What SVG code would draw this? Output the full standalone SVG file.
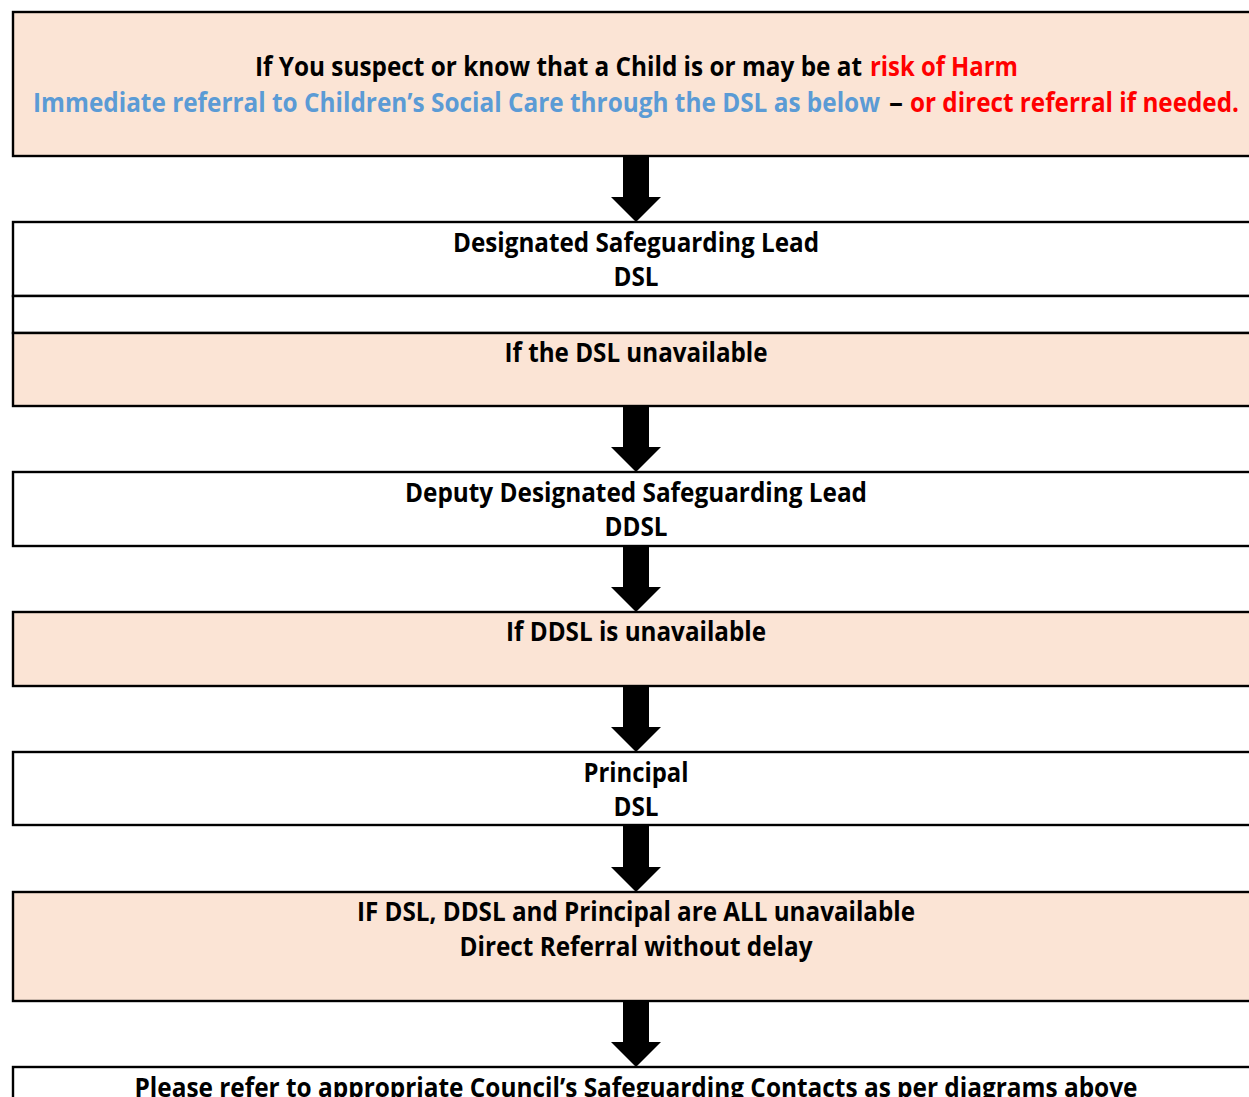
<svg xmlns="http://www.w3.org/2000/svg" width="1249" height="1097" viewBox="0 0 1249 1097">
<style>
.box{stroke:#000;stroke-width:2.4}
.pink{fill:#FBE4D5}
.white{fill:#fff}
text{font-family:"Open Sans","Noto Sans","Liberation Sans",sans-serif;font-weight:700;font-size:26px;fill:#000}
.c{text-anchor:middle}
.blue{fill:#5B9BD5}
.red{fill:#FF0000}
.arrow{fill:#000}
</style>
<rect width="1249" height="1097" fill="#fff"/>
<g id="n1">
<rect class="box pink" x="13" y="12" width="1260" height="144"/>
<text x="255" y="76" textLength="607" lengthAdjust="spacingAndGlyphs">If You suspect or know that a Child is or may be at</text>
<text class="red" x="870" y="76" textLength="148" lengthAdjust="spacingAndGlyphs">risk of Harm</text>
<text class="blue" x="33" y="112" textLength="847" lengthAdjust="spacingAndGlyphs">Immediate referral to Children’s Social Care through the DSL as below</text>
<text x="889" y="112" textLength="14" lengthAdjust="spacingAndGlyphs">–</text>
<text class="red" x="910" y="112" textLength="329" lengthAdjust="spacingAndGlyphs">or direct referral if needed.</text>
</g>
<g id="n2">
<rect class="box white" x="13" y="222" width="1260" height="74"/>
<text class="c" x="636" y="252" textLength="366" lengthAdjust="spacingAndGlyphs">Designated Safeguarding Lead</text>
<text class="c" x="636" y="286" textLength="45" lengthAdjust="spacingAndGlyphs">DSL</text>
</g>
<g id="n2b">
<rect class="box white" x="13" y="296" width="1260" height="37"/>
</g>
<g id="n3">
<rect class="box pink" x="13" y="333" width="1260" height="73"/>
<text class="c" x="636" y="362" textLength="263" lengthAdjust="spacingAndGlyphs">If the DSL unavailable</text>
</g>
<g id="n4">
<rect class="box white" x="13" y="472" width="1260" height="74"/>
<text class="c" x="636" y="502" textLength="462" lengthAdjust="spacingAndGlyphs">Deputy Designated Safeguarding Lead</text>
<text class="c" x="636" y="536" textLength="63" lengthAdjust="spacingAndGlyphs">DDSL</text>
</g>
<g id="n5">
<rect class="box pink" x="13" y="612" width="1260" height="74"/>
<text class="c" x="636" y="641" textLength="260" lengthAdjust="spacingAndGlyphs">If DDSL is unavailable</text>
</g>
<g id="n6">
<rect class="box white" x="13" y="752" width="1260" height="73"/>
<text class="c" x="636" y="782" textLength="105" lengthAdjust="spacingAndGlyphs">Principal</text>
<text class="c" x="636" y="816" textLength="45" lengthAdjust="spacingAndGlyphs">DSL</text>
</g>
<g id="n7">
<rect class="box pink" x="13" y="892" width="1260" height="109"/>
<text class="c" x="636" y="921" textLength="558" lengthAdjust="spacingAndGlyphs">IF DSL, DDSL and Principal are ALL unavailable</text>
<text class="c" x="636" y="956" textLength="353" lengthAdjust="spacingAndGlyphs">Direct Referral without delay</text>
</g>
<g id="n8">
<rect class="box white" x="13" y="1067" width="1260" height="60"/>
<text class="c" x="636" y="1097" textLength="1003" lengthAdjust="spacingAndGlyphs">Please refer to appropriate Council’s Safeguarding Contacts as per diagrams above</text>
</g>
<g id="connectors">
<polygon class="arrow" points="623,157 649,157 649,197 661,197 636,222 611,197 623,197"/>
<polygon class="arrow" points="623,407 649,407 649,447 661,447 636,472 611,447 623,447"/>
<polygon class="arrow" points="623,547 649,547 649,587 661,587 636,612 611,587 623,587"/>
<polygon class="arrow" points="623,687 649,687 649,727 661,727 636,752 611,727 623,727"/>
<polygon class="arrow" points="623,826 649,826 649,867 661,867 636,892 611,867 623,867"/>
<polygon class="arrow" points="623,1002 649,1002 649,1042 661,1042 636,1067 611,1042 623,1042"/>
</g>
</svg>
